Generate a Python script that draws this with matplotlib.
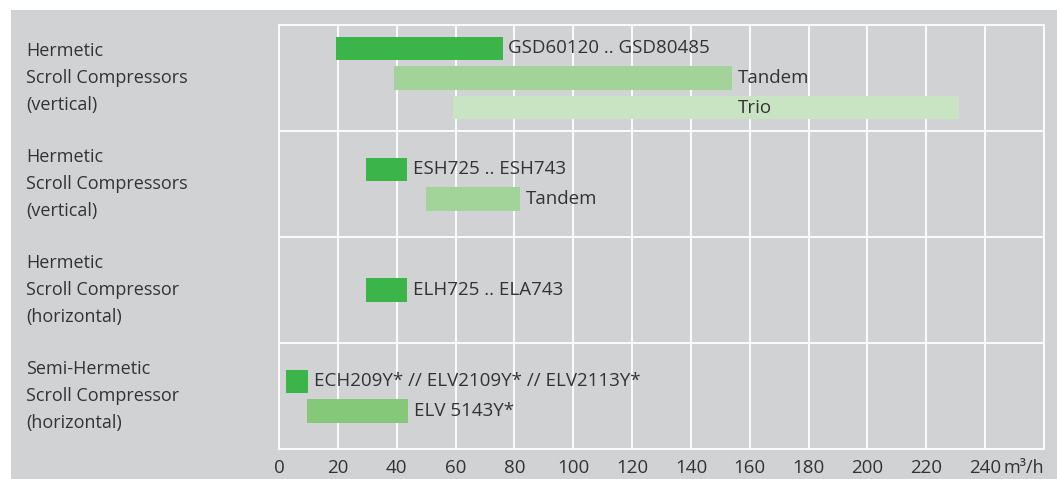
import matplotlib.pyplot as plt
from matplotlib.patches import Rectangle
from matplotlib.transforms import blended_transform_factory

# compressor groups (top to bottom)
groups = [
    'Hermetic\nScroll Compressors\n(vertical)',
    'Hermetic\nScroll Compressors\n(vertical)',
    'Hermetic\nScroll Compressor\n(horizontal)',
    'Semi-Hermetic\nScroll Compressor\n(horizontal)',
]

# bars: group index, start, end (m3/h), label
bar_group = [0, 0, 0, 1, 1, 2, 3, 3]
bar_start = [19.5, 39, 59, 29.5, 50, 29.5, 2.5, 9.5]
bar_end = [76, 154, 231, 43.5, 82, 43.5, 10, 44]
bar_labels = ['GSD60120 .. GSD80485', 'Tandem', 'Trio',
              'ESH725 .. ESH743', 'Tandem',
              'ELH725 .. ELA743',
              'ECH209Y* // ELV2109Y* // ELV2113Y*', 'ELV 5143Y*']
# where the label starts (Trio label sits under the Tandem label)
label_x = [76, 154, 154, 43.5, 82, 43.5, 10, 44]
bar_colors = ['#3bb54a', '#a2d49a', '#c9e4c3', '#3bb54a', '#a2d49a',
              '#3bb54a', '#3bb54a', '#86c87a']

ticks = list(range(0, 241, 20))

bg = '#d1d2d4'
txt = '#333333'
plt.rcParams['font.family'] = ['Open Sans', 'DejaVu Sans']

W, H = 1057, 479
fig = plt.figure(figsize=(W / 100, H / 100), dpi=100)
fig.add_artist(Rectangle((11 / W, 0), 1, 1 - 10 / H, transform=fig.transFigure,
                         facecolor=bg, edgecolor='none', zorder=-5))

ax = fig.add_axes([279 / W, 30 / H, (1044 - 279) / W, (449 - 25) / H])
ax.set_facecolor(bg)
ax.set_xlim(0, 260)
ax.set_ylim(4, 0)

pitch = 0.283
height = 0.217
rows = {}
for g in bar_group:
    rows[g] = rows.get(g, 0) + 1
seen = {}
for i in range(len(bar_start)):
    g = bar_group[i]
    k = seen.get(g, 0)
    seen[g] = k + 1
    yc = g + 0.5 + (k - (rows[g] - 1) / 2) * pitch
    ax.barh(yc, bar_end[i] - bar_start[i], left=bar_start[i], height=height,
            color=bar_colors[i], zorder=3)
    ax.annotate(bar_labels[i], (label_x[i], yc), xytext=(4, 0),
                textcoords='offset points', va='center', ha='left',
                fontsize=13.5, color=txt, zorder=4)

# white grid
for t in ticks[1:]:
    ax.axvline(t, color='white', lw=1.3, zorder=1)
for g in range(1, 4):
    ax.axhline(g, color='white', lw=1.3, zorder=1)
for s in ax.spines.values():
    s.set_color('white')
    s.set_linewidth(1.3)

ax.set_xticks(ticks)
ax.set_xticklabels([str(t) for t in ticks])
ax.tick_params(axis='x', length=0, pad=7, labelsize=13.5, labelcolor=txt)
ax.set_yticks([])
ax.annotate('m³/h', (240, 4), xytext=(13, -7), textcoords='offset points',
            ha='left', va='top', fontsize=13, color=txt, annotation_clip=False)

# group names on the left
tr = blended_transform_factory(fig.transFigure, ax.transData)
for g, name in enumerate(groups):
    ax.text(26 / W, g + 0.5, name, transform=tr, ha='left', va='center',
            fontsize=13, color=txt, linespacing=1.65)

fig.savefig('out.png', dpi=100)
